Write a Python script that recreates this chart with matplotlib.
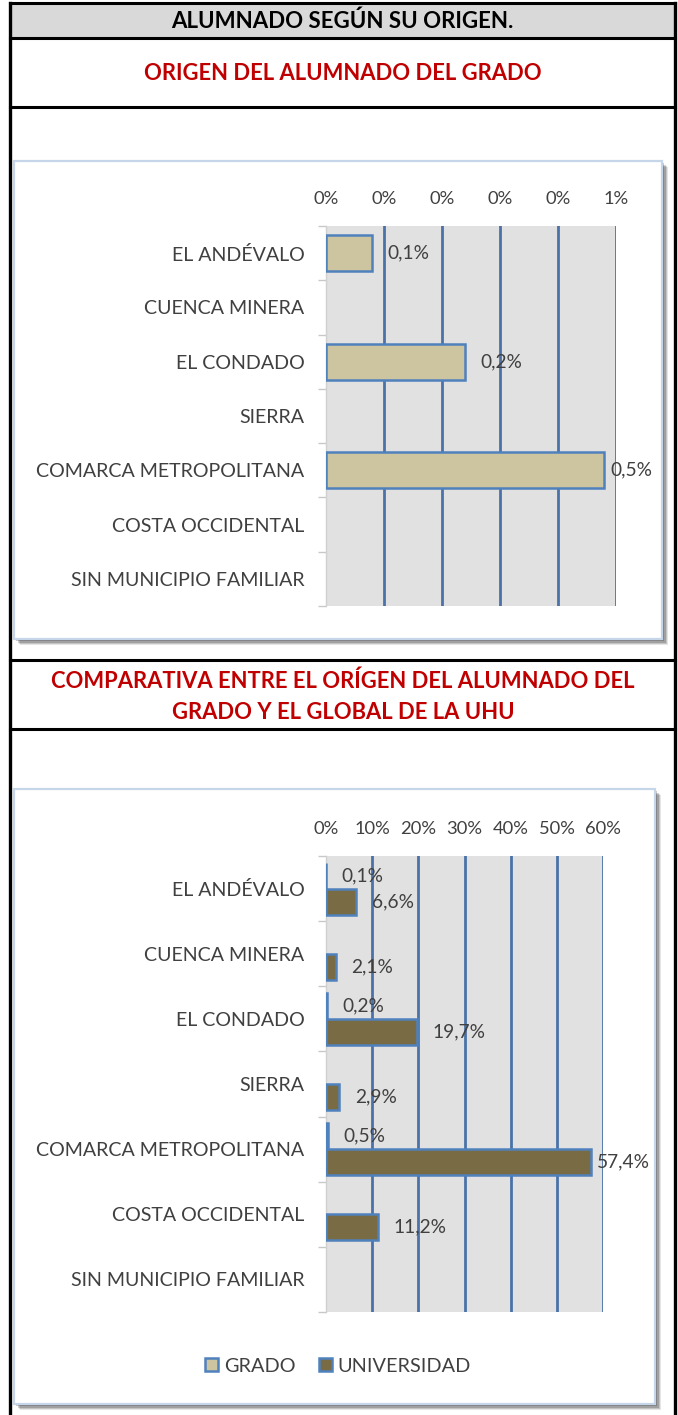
import numpy as np
import matplotlib
matplotlib.use("Agg")
import matplotlib.pyplot as plt
from matplotlib.patches import Rectangle
from matplotlib.lines import Line2D

# ---------------- data ----------------
categories = ["EL ANDÉVALO", "CUENCA MINERA", "EL CONDADO", "SIERRA",
              "COMARCA METROPOLITANA", "COSTA OCCIDENTAL", "SIN MUNICIPIO FAMILIAR"]
grado = [0.08, None, 0.24, None, 0.48, None, None]          # %
universidad = [6.6, 2.1, 19.7, 2.9, 57.4, 11.2, None]        # %
ticks1 = [0.0, 0.1, 0.2, 0.3, 0.4, 0.5]
ticklabels1 = ["0%", "0%", "0%", "0%", "0%", "1%"]
ticks2 = [0, 10, 20, 30, 40, 50, 60]
ticklabels2 = ["0%", "10%", "20%", "30%", "40%", "50%", "60%"]
series_names = ["GRADO", "UNIVERSIDAD"]

header = "ALUMNADO SEGÚN SU ORIGEN."
title1 = "ORIGEN DEL ALUMNADO DEL GRADO"
title2 = "COMPARATIVA ENTRE EL ORÍGEN DEL ALUMNADO DEL\nGRADO Y EL GLOBAL DE LA UHU"

# ---------------- style ----------------
plt.rcParams['font.family'] = ['Lato', 'DejaVu Sans']
W, H = 678, 1415
C_TEXT = "#404040"
C_RED = "#c00000"
C_GRID = "#4a72a8"
C_EDGE = "#4f81bd"
C_GRADO = "#cdc5a0"
C_UNIV = "#796b44"
C_PLOTBG = "#e1e1e1"
FS_CAT = 14.1
FS_TICK = 13.2
FS_LAB = 13.8

fig = plt.figure(figsize=(W / 100, H / 100), dpi=100)
bg = fig.add_axes([0, 0, 1, 1], zorder=0)
bg.set_xlim(0, W)
bg.set_ylim(H, 0)
bg.axis("off")


def fbox(x0, y0, x1, y1):
    return [x0 / W, 1 - y1 / H, (x1 - x0) / W, (y1 - y0) / H]


# table
bg.add_patch(Rectangle((9.5, 3), 665.5, 35, facecolor="#d9d9d9", edgecolor="none"))
for yy in [3, 38, 107, 660, 729]:
    bg.add_line(Line2D([9.5, 675], [yy, yy], color="black", lw=2.2))
bg.add_line(Line2D([9.5, 9.5], [3, H], color="black", lw=2.4))
bg.add_line(Line2D([675, 675], [3, H], color="black", lw=2.4))

bg.text(342, 21, header, ha="center", va="center", fontsize=16,
        fontweight="bold", color="black")
bg.text(343, 73, title1, ha="center", va="center", fontsize=15.8,
        fontweight="bold", color=C_RED)
bg.text(343, 697, title2, ha="center", va="center", fontsize=15.8,
        fontweight="bold", color=C_RED, linespacing=1.6)


def chart_box(x0, y0, x1, y1):
    for i, a in enumerate([0.10, 0.14, 0.18, 0.22]):
        off = 6 - i * 1.2
        bg.add_patch(Rectangle((x0 + off, y0 + off), x1 - x0, y1 - y0,
                               facecolor="#000000", alpha=a, edgecolor="none"))
    bg.add_patch(Rectangle((x0, y0), x1 - x0, y1 - y0, facecolor="white",
                           edgecolor="#c5d5ea", lw=1.6))


chart_box(14, 161, 662, 639)
chart_box(14, 789, 655, 1404)


def style_axis(ax, ticks, labels, xmax):
    ax.set_facecolor(C_PLOTBG)
    ax.set_xlim(0, xmax)
    ax.set_ylim(len(categories) - 0.5, -0.5)
    ax.xaxis.set_ticks_position("top")
    ax.set_xticks(ticks)
    ax.set_xticklabels(labels, fontsize=FS_TICK, color=C_TEXT)
    ax.tick_params(axis="x", length=0, pad=14)
    ax.set_yticks(range(len(categories)))
    ax.set_yticklabels(categories, fontsize=FS_CAT, color=C_TEXT)
    ax.set_yticks(np.arange(-0.5, len(categories), 1), minor=True)
    ax.tick_params(axis="y", which="major", length=0, pad=15.5)
    ax.tick_params(axis="y", which="minor", length=6, color="#c8c8c8", width=1)
    for s in ["top", "right", "bottom"]:
        ax.spines[s].set_visible(False)
    ax.spines["left"].set_color("#d0d0d0")
    ax.spines["left"].set_linewidth(1)
    for t in ticks[1:]:
        ax.axvline(t, color=C_GRID, lw=2.0, zorder=1)


def add_labels(ax, ys, vals, xmax):
    for yv, v in zip(ys, vals):
        if v is None:
            continue
        off = 4 if v > 0.9 * xmax else 11
        ax.annotate(f"{v:.1f}%".replace(".", ","), (v, yv), xytext=(off, 0),
                    textcoords="offset points", ha="left", va="center",
                    fontsize=FS_LAB, color=C_TEXT, zorder=5)


y = np.arange(len(categories))
mask_g = np.array([v is not None for v in grado])
mask_u = np.array([v is not None for v in universidad])
g_vals = np.array([v if v is not None else 0 for v in grado])
u_vals = np.array([v if v is not None else 0 for v in universidad])

# chart 1
ax1 = fig.add_axes(fbox(326, 226, 616, 606), zorder=2)
style_axis(ax1, ticks1, ticklabels1, 0.5)
ax1.barh(y[mask_g], g_vals[mask_g], height=0.67, color=C_GRADO,
         edgecolor=C_EDGE, lw=1.8, zorder=3)
add_labels(ax1, y, grado, 0.5)

# chart 2
ax2 = fig.add_axes(fbox(326, 856, 603, 1312), zorder=2)
style_axis(ax2, ticks2, ticklabels2, 60)
yg = y - 0.2
yu = y + 0.2
ax2.barh(yg[mask_g], g_vals[mask_g], height=0.4, color=C_GRADO,
         edgecolor=C_EDGE, lw=1.8, zorder=3, label=series_names[0])
ax2.barh(yu[mask_u], u_vals[mask_u], height=0.4, color=C_UNIV,
         edgecolor=C_EDGE, lw=1.8, zorder=3, label=series_names[1])
add_labels(ax2, yg, grado, 60)
add_labels(ax2, yu, universidad, 60)

handles, lbls = ax2.get_legend_handles_labels()
fig.legend(handles, lbls, loc="center", bbox_to_anchor=(338 / W, 1 - 1366 / H),
           ncol=2, frameon=False, fontsize=14.3, handlelength=0.65,
           handleheight=0.65, handletextpad=0.3, columnspacing=1.2,
           labelcolor=C_TEXT)

fig.savefig("out.png", dpi=100)
